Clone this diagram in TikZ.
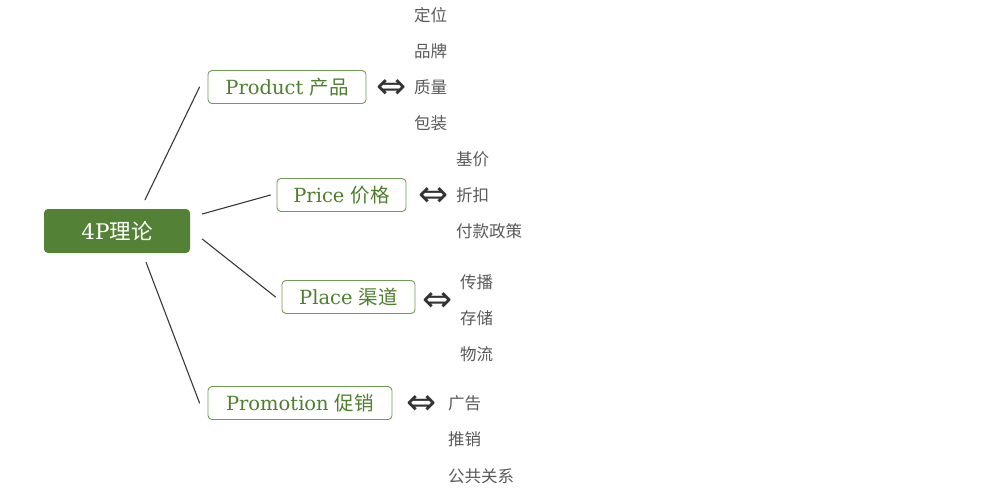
\documentclass[tikz,border=0pt]{standalone}
\usepackage{fontspec}
\setmainfont{DejaVu Serif}
\newfontfamily\cjk{Noto Sans CJK SC}
\newfontfamily\symfont{DejaVu Sans}
\definecolor{rootgreen}{HTML}{538135}
\definecolor{boxgreen}{HTML}{6E9C50}
\definecolor{textgreen}{HTML}{4E7F2C}
\definecolor{leafgray}{HTML}{595959}

\begin{document}
\begin{tikzpicture}[
  x=1pt,
  y=-1pt,
  line join=round,
  line cap=round,
  rootbox/.style={fill=rootgreen,rounded corners=4pt,text=white,
    minimum width=146pt,minimum height=44pt,inner sep=0pt,
    font=\fontsize{21.5}{24}\selectfont},
  branch/.style={draw=boxgreen,line width=0.9pt,rounded corners=4pt,
    text=textgreen,minimum height=33pt,inner sep=0pt,
    font=\fontsize{19.5}{22}\selectfont},
  link/.style={draw=black!78,line width=1.1pt},
  equiv/.style={text=black!80,inner sep=0pt,font=\symfont\fontsize{36}{36}\selectfont},
  leaf/.style={anchor=west,inner sep=0pt,text=leafgray,
    font=\cjk\fontsize{16.5}{18}\selectfont}
]
  \useasboundingbox (0,0) rectangle (990,493);

  % Centre node.
  \node[rootbox] (root) at (117,231) {4P{\cjk 理论}};

  % The four branches.
  \node[branch,minimum width=158pt] (prod) at (287,87) {Product {\cjk 产品}};
  \node[branch,minimum width=129pt] (price) at (341.5,195) {Price {\cjk 价格}};
  \node[branch,minimum width=133pt] (place) at (348.5,297) {Place {\cjk 渠道}};
  \node[branch,minimum width=184pt] (promo) at (300,403) {Promotion {\cjk 促销}};

  % Links from the centre.
  \draw[link] ([shift={(28,-9)}]root.north) -- ([xshift=-8]prod.west);
  \draw[link] ([shift={(12,-17)}]root.east) -- ([xshift=-6]price.west);
  \draw[link] ([shift={(12,8)}]root.east) -- ([xshift=-6]place.west);
  \draw[link] ([shift={(29,9)}]root.south) -- ([xshift=-8]promo.west);

  % Equivalence signs.
  \node[equiv] (eqprod) at (392,89) {⇔};
  \node[equiv] (eqprice) at (434,197) {⇔};
  \node[equiv] (eqplace) at (438,302) {⇔};
  \node[equiv] (eqpromo) at (422,405) {⇔};

  % Items of each branch.
  \foreach \n/\x/\y/\t in {prod1/414/15/定位, prod2/414/51/品牌,
                           prod3/414/87/质量, prod4/414/123/包装,
                           price1/456/159/基价, price2/456/195/折扣,
                           price3/456/231/付款政策,
                           place1/460/282/传播, place2/460/318/存储,
                           place3/460/354/物流,
                           promo1/448/403/广告, promo2/448/439/推销,
                           promo3/448/476/公共关系} {
    \node[leaf] (\n) at (\x,\y) {\t};
  }
\end{tikzpicture}
\end{document}
